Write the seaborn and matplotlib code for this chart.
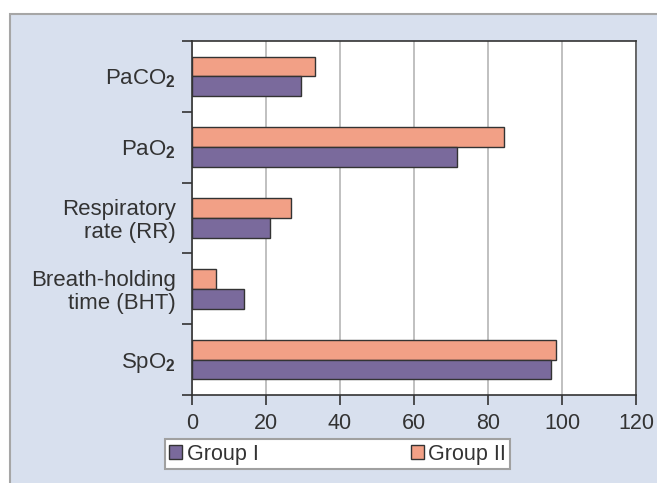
import matplotlib
matplotlib.use("Agg")
import matplotlib.pyplot as plt
from matplotlib.patches import Rectangle
import seaborn as sns
import pandas as pd

categories = ["PaCO$_\\mathbf{2}$", "PaO$_\\mathbf{2}$", "Respiratory\nrate (RR)",
              "Breath-holding\ntime (BHT)", "SpO$_\\mathbf{2}$"]
group1 = [29.4, 71.7, 21.2, 14.0, 97.1]
group2 = [33.2, 84.3, 26.8, 6.6, 98.5]
groups = ["Group I", "Group II"]
xticks = [0, 20, 40, 60, 80, 100, 120]

sns.set_theme(style="white")
plt.rcParams["font.family"] = ["Liberation Sans", "DejaVu Sans"]
plt.rcParams["mathtext.fontset"] = "custom"
plt.rcParams["mathtext.rm"] = "Liberation Sans"
plt.rcParams["mathtext.bf"] = "Liberation Sans:bold"

df = pd.DataFrame({
    "cat": categories * 2,
    "val": group1 + group2,
    "grp": [groups[0]] * 5 + [groups[1]] * 5,
})

c1 = "#7a6a9c"
c2 = "#f2a086"
fig = plt.figure(figsize=(6.57, 4.83), dpi=100)
fig.patch.set_facecolor("white")
fig.patches.append(Rectangle((10 / 657, -0.1), 1.2, 1 - 14 / 483 + 0.1,
                             transform=fig.transFigure, facecolor="#d8e0ee",
                             edgecolor="#a6a6a6", linewidth=1.5, zorder=-10))

ax = fig.add_axes([192 / 657, 1 - 395 / 483, (636 - 192) / 657, (395 - 41) / 483])
sns.barplot(data=df, y="cat", x="val", hue="grp", hue_order=["Group II", "Group I"],
            palette={"Group I": c1, "Group II": c2}, order=categories,
            width=0.56, orient="h", edgecolor="#333333", linewidth=1.0,
            legend=False, ax=ax, saturation=1)

ax.set_xlim(0, 120)
ax.set_ylim(4.5, -0.5)
ax.set_xticks(xticks)
ax.set_xticklabels([str(t) for t in xticks], fontsize=15.5, color="#333333")
ax.set_yticks(range(5))
ax.set_yticklabels(categories, fontsize=16, color="#333333", linespacing=1.1)
ax.set_yticks([i - 0.5 for i in range(6)], minor=True)
ax.tick_params(axis="y", which="major", length=0, pad=11.5)
ax.tick_params(axis="y", which="minor", length=7, width=1.2, color="#333333", direction="out", left=True)
ax.tick_params(axis="x", which="major", length=7, width=1.2, color="#333333", direction="out", bottom=True, pad=6)
ax.set_xlabel("")
ax.set_ylabel("")
ax.set_facecolor("white")
ax.grid(axis="x", color="#b5b5b5", linewidth=1.2)
ax.set_axisbelow(True)
for s in ["left", "bottom", "top"]:
    ax.spines[s].set_color("#333333")
    ax.spines[s].set_linewidth(1.2)
ax.spines["right"].set_color("#555555")
ax.spines["right"].set_linewidth(1.2)

handles = [Rectangle((0, 0), 1, 1, facecolor=c1, edgecolor="#333333", linewidth=1),
           Rectangle((0, 0), 1, 1, facecolor=c2, edgecolor="#333333", linewidth=1)]
leg = fig.legend(handles, groups, loc="lower left",
                 bbox_to_anchor=(165 / 657, 1 - 469 / 483, (510 - 165) / 657, 29 / 483),
                 mode="expand", ncol=2, frameon=True, fancybox=False, borderaxespad=0,
                 handlelength=0.6, handleheight=0.6, handletextpad=0.2,
                 fontsize=15.5, borderpad=0.2, framealpha=1)
leg.get_frame().set_edgecolor("#a0a0a0")
leg.get_frame().set_facecolor("white")
leg.get_frame().set_linewidth(1.5)
for t in leg.get_texts():
    t.set_color("#333333")

fig.savefig("out.png", dpi=100)
